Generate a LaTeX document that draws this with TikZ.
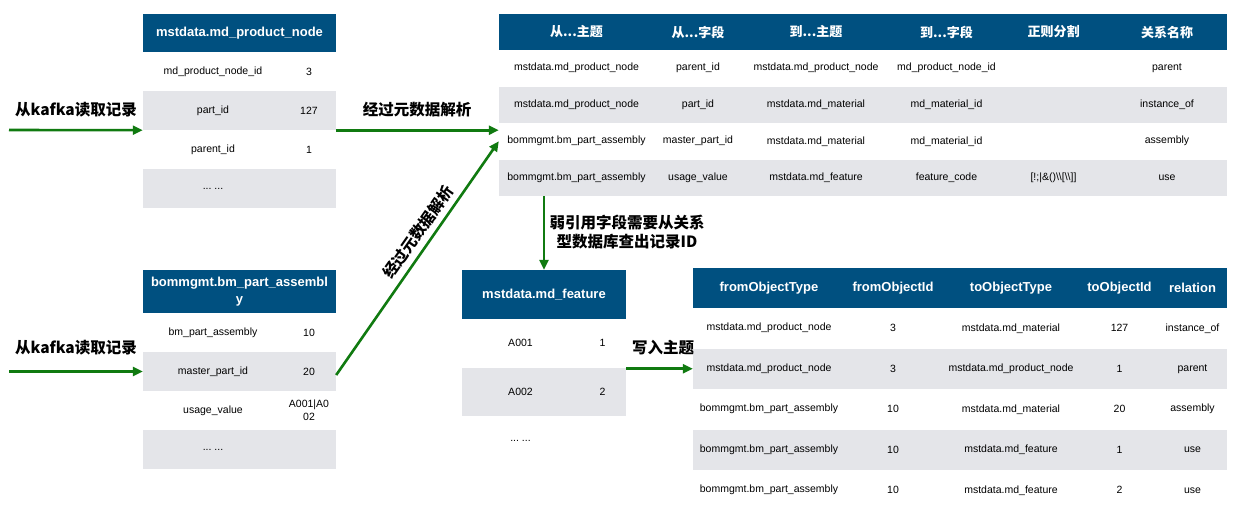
\documentclass[tikz,border=0pt]{standalone}
\usepackage{fontspec}
\setmainfont{Liberation Sans}
\newfontfamily\cjk{Noto Sans CJK SC}
\usetikzlibrary{calc}
\usetikzlibrary{arrows.meta}
\usetikzlibrary{positioning}

\definecolor{hdrblue}{RGB}{0,80,128}
\definecolor{rowgrey}{RGB}{228,229,233}
\definecolor{flowgreen}{RGB}{16,122,16}

\newcommand\threedots{...}

\tikzset{
  hdr/.style={fill=hdrblue, text=white, inner sep=0pt, align=center,
    font=\bfseries\fontsize{13}{17}\selectfont},
  cjkhdr/.style={inner sep=0pt, text=white, font=\cjk\bfseries\fontsize{13}{17}\selectfont},
  latinhdr/.style={inner sep=0pt, text=white, font=\bfseries\fontsize{13}{17}\selectfont},
  rowbox/.style={inner sep=0pt},
  cell/.style={inner sep=0pt, align=center, font=\fontsize{10.5}{13}\selectfont},
  lbl/.style={inner sep=0pt, align=center, font=\cjk\bfseries\fontsize{15.5}{19}\selectfont},
  flow/.style={draw=flowgreen, color=flowgreen, line width=2.6pt,
    -{Triangle[length=10pt,width=9pt]}}
}

\begin{document}
\begin{tikzpicture}[x=1pt, y=-1pt]
  \useasboundingbox (0,0) rectangle (1244,512);

  % mstdata.md_product_node
  \node[hdr, minimum width=193pt, minimum height=38pt] (pn-h) at (239.5,33) {mstdata.md\_product\_node};
  \foreach \i in {1,...,4}{
    \ifodd\i \def\rowfill{white}\else \def\rowfill{rowgrey}\fi
    \node[rowbox, fill=\rowfill, minimum width=193pt, minimum height=39pt] (pn-\i) at (239.5,{32.5+39*\i}) {};
  }
  \foreach \i/\k/\v in {1/md\_product\_node\_id/3, 2/part\_id/127, 3/parent\_id/1, 4/\threedots\ \threedots/}
    \node[cell] (pn-k\i) at (213,{32.5+39*\i}) {\k}
      node[cell] (pn-v\i) at (309,{32.5+39*\i}) {\v};

  % bommgmt.bm_part_assembly
  \node[hdr, minimum width=193pt, minimum height=43pt] (asm-h) at (239.5,291.5) {bommgmt.bm\_part\_assembl\\y};
  \foreach \i in {1,...,4}{
    \ifodd\i \def\rowfill{white}\else \def\rowfill{rowgrey}\fi
    \node[rowbox, fill=\rowfill, minimum width=193pt, minimum height=39pt] (asm-\i) at (239.5,{293.5+39*\i}) {};
  }
  \foreach \i/\k/\v in {1/bm\_part\_assembly/10, 2/master\_part\_id/20, 3/usage\_value/{A001|A0\\02}, 4/\threedots\ \threedots/}
    \node[cell] (asm-k\i) at (213,{293.5+39*\i}) {\k}
      node[cell] (asm-v\i) at (309,{293.5+39*\i}) {\v};

  % relation metadata
  \node[hdr, minimum width=728pt, minimum height=36pt] (rel-h) at (863,32) {};
  \foreach \x/\t [count=\c] in {576.5/从\threedots 主题, 698/从\threedots 字段, 816/到\threedots 主题, 946.5/到\threedots 字段, 1053.5/正则分割, 1167/关系名称}
    \node[cjkhdr] (rel-h\c) at (\x,32) {\t};
  \foreach \i in {1,...,4}{
    \ifodd\i \def\rowfill{white}\else \def\rowfill{rowgrey}\fi
    \node[rowbox, fill=\rowfill, minimum width=728pt, minimum height=36.5pt] (rel-\i) at (863,{31.75+36.5*\i}) {};
  }
  \foreach \i/\a/\b/\c/\d/\e/\f in {
      1/mstdata.md\_product\_node/parent\_id/mstdata.md\_product\_node/md\_product\_node\_id//parent,
      2/mstdata.md\_product\_node/part\_id/mstdata.md\_material/md\_material\_id//instance\_of,
      3/bommgmt.bm\_part\_assembly/master\_part\_id/mstdata.md\_material/md\_material\_id//assembly,
      4/bommgmt.bm\_part\_assembly/usage\_value/mstdata.md\_feature/feature\_code/{[!;|\&()\textbackslash\textbackslash[\textbackslash\textbackslash]]}/use}{
    \node[cell] (rel-\i-1) at (576.5,{31.75+36.5*\i}) {\a};
    \node[cell] (rel-\i-2) at (698,{31.75+36.5*\i}) {\b};
    \node[cell] (rel-\i-3) at (816,{31.75+36.5*\i}) {\c};
    \node[cell] (rel-\i-4) at (946.5,{31.75+36.5*\i}) {\d};
    \node[cell] (rel-\i-5) at (1053.5,{31.75+36.5*\i}) {\e};
    \node[cell] (rel-\i-6) at (1167,{31.75+36.5*\i}) {\f};
  }

  % mstdata.md_feature
  \node[hdr, minimum width=164pt, minimum height=49pt] (feat-h) at (544,294.5) {mstdata.md\_feature};
  \foreach \i in {1,...,3}{
    \ifodd\i \def\rowfill{white}\else \def\rowfill{rowgrey}\fi
    \node[rowbox, fill=\rowfill, minimum width=164pt, minimum height=48.7pt] (feat-\i) at (544,{294.65+48.65*\i}) {};
  }
  \foreach \i/\k/\v in {1/A001/1, 2/A002/2, 3/\threedots\ \threedots/}
    \node[cell] (feat-k\i) at (520.5,{294.65+48.65*\i}) {\k}
      node[cell] (feat-v\i) at (602.5,{294.65+48.65*\i}) {\v};

  % relation records
  \node[hdr, minimum width=534pt, minimum height=40pt] (obj-h) at (960,288) {};
  \foreach \x/\t [count=\c] in {769/fromObjectType, 893/fromObjectId, 1011/toObjectType, 1119.5/toObjectId, 1192.5/relation}
    \node[latinhdr] (obj-h\c) at (\x,288) {\t};
  \foreach \i in {1,...,5}{
    \ifodd\i \def\rowfill{white}\else \def\rowfill{rowgrey}\fi
    \node[rowbox, fill=\rowfill, minimum width=534pt, minimum height=40.5pt] (obj-\i) at (960,{287.75+40.5*\i}) {};
  }
  \foreach \i/\a/\b/\c/\d/\e in {
      1/mstdata.md\_product\_node/3/mstdata.md\_material/127/instance\_of,
      2/mstdata.md\_product\_node/3/mstdata.md\_product\_node/1/parent,
      3/bommgmt.bm\_part\_assembly/10/mstdata.md\_material/20/assembly,
      4/bommgmt.bm\_part\_assembly/10/mstdata.md\_feature/1/use,
      5/bommgmt.bm\_part\_assembly/10/mstdata.md\_feature/2/use}{
    \node[cell] (obj-\i-1) at (769,{287.75+40.5*\i}) {\a};
    \node[cell] (obj-\i-2) at (893,{287.75+40.5*\i}) {\b};
    \node[cell] (obj-\i-3) at (1011,{287.75+40.5*\i}) {\c};
    \node[cell] (obj-\i-4) at (1119.5,{287.75+40.5*\i}) {\d};
    \node[cell] (obj-\i-5) at (1192.5,{287.75+40.5*\i}) {\e};
  }

  % kafka inputs
  \coordinate (src1) at (9,130);
  \coordinate (src2) at (9,371.5);
  \node[lbl] (lbl-kafka1) at (76,110) {从kafka读取记录};
  \node[lbl] (lbl-kafka2) at (76,348) {从kafka读取记录};
  \draw[flow] (src1) -- (pn-2.south west);
  \draw[flow] (src2) -- (asm-2.west);

  % metadata parsing
  \node[lbl] (lbl-parse1) at (417,110) {经过元数据解析};
  \draw[flow] (pn-2.south east) -- (pn-2.south east -| rel-3.west);
  \node[lbl, rotate=55] (lbl-parse2) at (418,232) {经过元数据解析};
  \draw[flow] ([yshift=-3.5pt]asm-2.east) -- (rel-3.west);

  % lookup and write
  \node[lbl] (lbl-lookup) at (627,232) {弱引用字段需要从关系\\型数据库查出记录ID};
  \draw[flow] (feat-h.north |- rel-4.south) -- (feat-h.north);
  \node[lbl] (lbl-write) at (663,348) {写入主题};
  \draw[flow] (obj-2.west -| feat-2.east) -- (obj-2.west);
\end{tikzpicture}
\end{document}
